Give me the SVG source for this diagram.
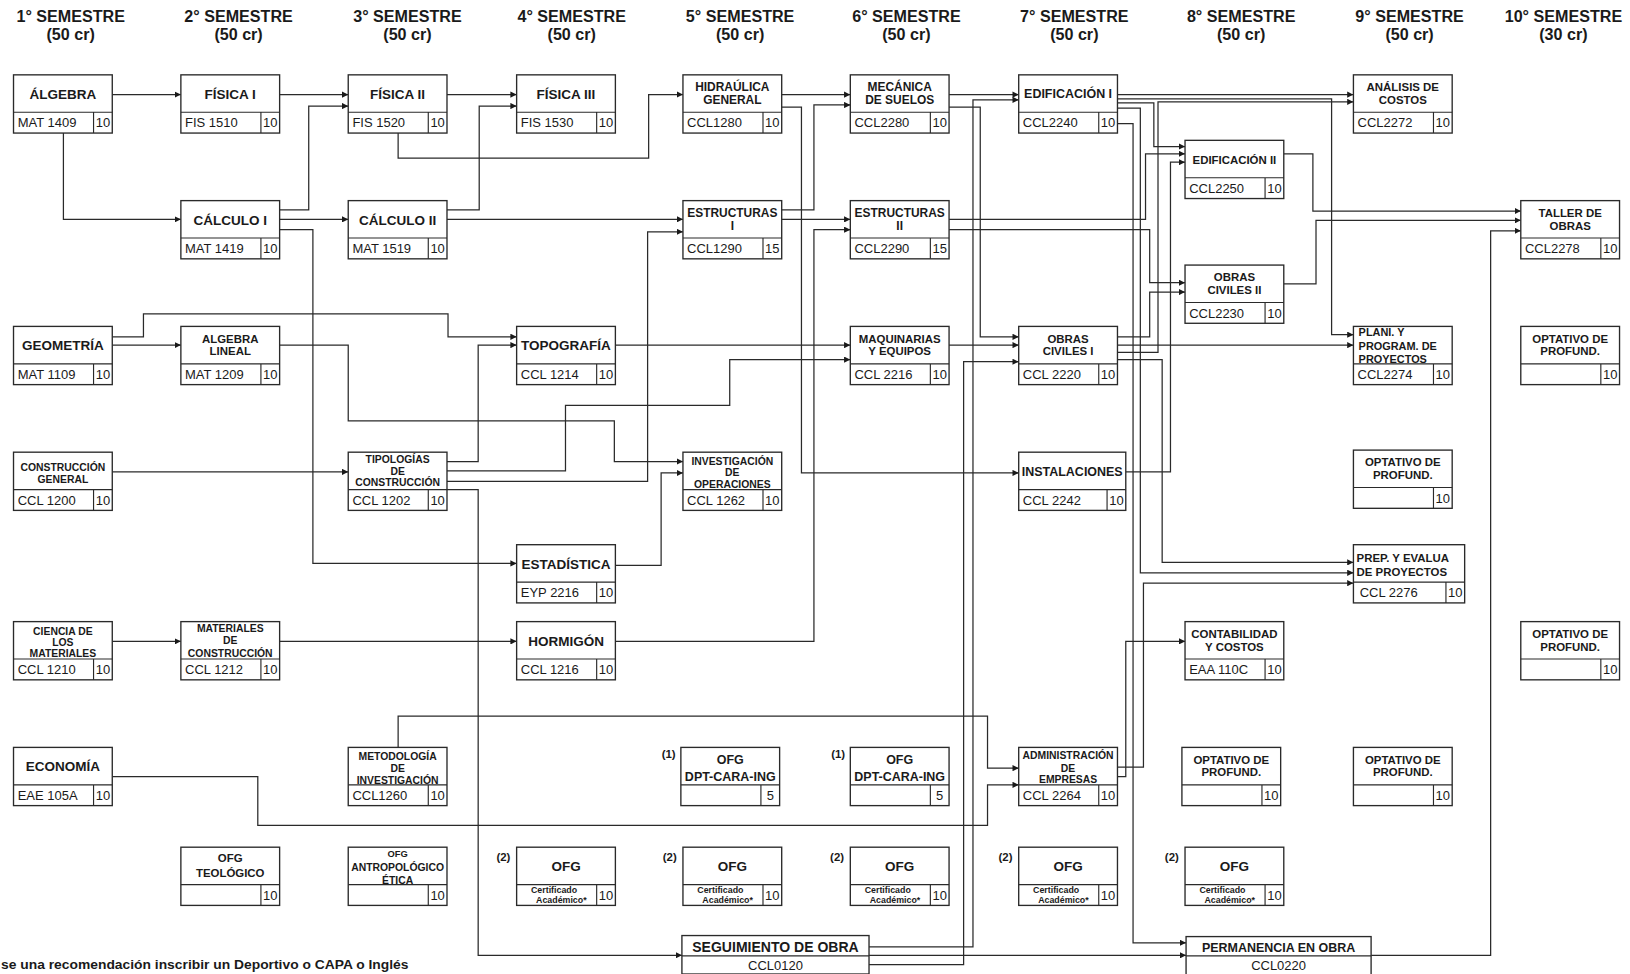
<svg xmlns="http://www.w3.org/2000/svg" width="1630" height="974" viewBox="0 0 1630 974">
<defs>
<style>
.b{fill:#fff;stroke:#2a2a2a;stroke-width:1.3}
.d{fill:none;stroke:#2a2a2a;stroke-width:1.1}
.w{fill:none;stroke:#2a2a2a;stroke-width:1.2;marker-end:url(#a)}
text{font-family:"Liberation Sans",Arial,Helvetica,sans-serif;fill:#1a1a1a}
.h{font-size:15.5px;font-weight:bold;text-anchor:middle}
.t{font-weight:bold;text-anchor:middle}
.tl{font-weight:bold}
.c{font-size:12.5px}
.n{font-size:12.5px;text-anchor:middle}
.lab{font-size:11px;font-weight:bold;text-anchor:end}
.cert{font-size:8.5px;font-weight:bold;text-anchor:middle}
.s13{font-size:13px}.s12{font-size:12px}.s115{font-size:11.5px}.s11{font-size:11px}.s105{font-size:10.5px}.s10{font-size:10px}.s9{font-size:9px}
</style>
<marker id="a" viewBox="0 0 8 8" refX="8" refY="4" markerWidth="6" markerHeight="6" markerUnits="userSpaceOnUse" orient="auto"><path d="M0,0L8,4L0,8z" fill="#1a1a1a"/></marker>
</defs>
<rect width="1630" height="974" fill="#fff"/>
<g transform="scale(1.0395)">
<g id="headers">
<text class="h" x="68" y="21">1° SEMESTRE</text><text class="h" x="68" y="38.5">(50 cr)</text>
<text class="h" x="229.5" y="21">2° SEMESTRE</text><text class="h" x="229.5" y="38.5">(50 cr)</text>
<text class="h" x="392" y="21">3° SEMESTRE</text><text class="h" x="392" y="38.5">(50 cr)</text>
<text class="h" x="550" y="21">4° SEMESTRE</text><text class="h" x="550" y="38.5">(50 cr)</text>
<text class="h" x="712" y="21">5° SEMESTRE</text><text class="h" x="712" y="38.5">(50 cr)</text>
<text class="h" x="872" y="21">6° SEMESTRE</text><text class="h" x="872" y="38.5">(50 cr)</text>
<text class="h" x="1033.5" y="21">7° SEMESTRE</text><text class="h" x="1033.5" y="38.5">(50 cr)</text>
<text class="h" x="1194" y="21">8° SEMESTRE</text><text class="h" x="1194" y="38.5">(50 cr)</text>
<text class="h" x="1356" y="21">9° SEMESTRE</text><text class="h" x="1356" y="38.5">(50 cr)</text>
<text class="h" x="1504" y="21">10° SEMESTRE</text><text class="h" x="1504" y="38.5">(30 cr)</text>
</g>
<g id="connectors">
<path class="w" d="M108,91H174"/>
<path class="w" d="M61,128V211H174"/>
<path class="w" d="M269,91H335"/>
<path class="w" d="M269,202H297V102H335"/>
<path class="w" d="M269,211H335"/>
<path class="w" d="M269,221H301V542H497"/>
<path class="w" d="M430,91H497"/>
<path class="w" d="M430,202H461V102H497"/>
<path class="w" d="M430,211H657"/>
<path class="w" d="M383,128V152H624V91H657"/>
<path class="w" d="M752,91H818"/>
<path class="w" d="M752,202H783V101H818"/>
<path class="w" d="M752,103H771V455H980"/>
<path class="w" d="M752,211H818"/>
<path class="w" d="M590,617H783V221H818"/>
<path class="w" d="M912,91H980"/>
<path class="w" d="M912,103H943V324H980"/>
<path class="w" d="M836,911H936V96H980"/>
<path class="w" d="M836,928H927V348H980"/>
<path class="w" d="M912,332H980"/>
<path class="w" d="M590,332H818"/>
<path class="w" d="M430,453H544V390H702V346H818"/>
<path class="w" d="M430,444H460V332H497"/>
<path class="w" d="M430,463H623V223H657"/>
<path class="w" d="M430,471H460V919H656"/>
<path class="w" d="M108,332H174"/>
<path class="w" d="M108,324H138V302H431V324H497"/>
<path class="w" d="M269,332H335V405H591V444H657"/>
<path class="w" d="M590,544H636V455H657"/>
<path class="w" d="M108,454H335"/>
<path class="w" d="M108,617H174"/>
<path class="w" d="M269,617H497"/>
<path class="w" d="M383,719V689H950V739H980"/>
<path class="w" d="M108,747H248V794H950V755H980"/>
<path class="w" d="M836,919H1141"/>
<path class="w" d="M1075,91H1302"/>
<path class="w" d="M1075,95H1281V322H1302"/>
<path class="w" d="M1075,99H1110V141H1140"/>
<path class="w" d="M1075,104H1097V551H1302"/>
<path class="w" d="M1075,119H1090V907H1141"/>
<path class="w" d="M913,211H1102V148H1140"/>
<path class="w" d="M913,221H1106V272H1140"/>
<path class="w" d="M1083,454H1126V156H1140"/>
<path class="w" d="M1075,324H1106V281H1140"/>
<path class="w" d="M1075,332H1302"/>
<path class="w" d="M1075,339H1114V98H1302"/>
<path class="w" d="M1075,346H1118V541H1302"/>
<path class="w" d="M1075,747H1083V617H1140"/>
<path class="w" d="M1075,738H1100V561H1302"/>
<path class="w" d="M1235,148H1263V203H1463"/>
<path class="w" d="M1235,273H1266V212H1463"/>
<path class="w" d="M1319,919H1434V222H1463"/>
</g>
<g id="algebra" transform="translate(13,72)"><rect class="b" width="95" height="56"/><path class="d" d="M0,36H95M77,36V56"/><text class="t s13" x="47.5" y="23">ÁLGEBRA</text><text class="c" x="4" y="50.5">MAT 1409</text><text class="n" x="86" y="50.5">10</text></g>
<g id="fisica1" transform="translate(174,72)"><rect class="b" width="95" height="56"/><path class="d" d="M0,36H95M77,36V56"/><text class="t s13" x="47.5" y="23">FÍSICA I</text><text class="c" x="4" y="50.5">FIS 1510</text><text class="n" x="86" y="50.5">10</text></g>
<g id="fisica2" transform="translate(335,72)"><rect class="b" width="95" height="56"/><path class="d" d="M0,36H95M77,36V56"/><text class="t s13" x="47.5" y="23">FÍSICA II</text><text class="c" x="4" y="50.5">FIS 1520</text><text class="n" x="86" y="50.5">10</text></g>
<g id="fisica3" transform="translate(497,72)"><rect class="b" width="95" height="56"/><path class="d" d="M0,36H95M77,36V56"/><text class="t s13" x="47.5" y="23">FÍSICA III</text><text class="c" x="4" y="50.5">FIS 1530</text><text class="n" x="86" y="50.5">10</text></g>
<g id="hidraulica" transform="translate(657,72)"><rect class="b" width="95" height="56"/><path class="d" d="M0,36H95M77,36V56"/><text class="t s115" x="47.5" y="15.5">HIDRAÚLICA</text><text class="t s115" x="47.5" y="28">GENERAL</text><text class="c" x="4" y="50.5">CCL1280</text><text class="n" x="86" y="50.5">10</text></g>
<g id="mecanica" transform="translate(818,72)"><rect class="b" width="95" height="56"/><path class="d" d="M0,36H95M77,36V56"/><text class="t s115" x="47.5" y="15.5">MECÁNICA</text><text class="t s115" x="47.5" y="28">DE SUELOS</text><text class="c" x="4" y="50.5">CCL2280</text><text class="n" x="86" y="50.5">10</text></g>
<g id="edificacion1" transform="translate(980,72)"><rect class="b" width="95" height="56"/><path class="d" d="M0,36H95M77,36V56"/><text class="t s12" x="47.5" y="22.5">EDIFICACIÓN I</text><text class="c" x="4" y="50.5">CCL2240</text><text class="n" x="86" y="50.5">10</text></g>
<g id="analisis" transform="translate(1302,72)"><rect class="b" width="95" height="56"/><path class="d" d="M0,36H95M77,36V56"/><text class="t s11" x="47.5" y="15.5">ANÁLISIS DE</text><text class="t s11" x="47.5" y="28">COSTOS</text><text class="c" x="4" y="50.5">CCL2272</text><text class="n" x="86" y="50.5">10</text></g>
<g id="edificacion2" transform="translate(1140,135)"><rect class="b" width="95" height="56"/><path class="d" d="M0,36H95M77,36V56"/><text class="t s11" x="47.5" y="22.5">EDIFICACIÓN II</text><text class="c" x="4" y="50.5">CCL2250</text><text class="n" x="86" y="50.5">10</text></g>
<g id="calculo1" transform="translate(174,193)"><rect class="b" width="95" height="56"/><path class="d" d="M0,36H95M77,36V56"/><text class="t s13" x="47.5" y="23">CÁLCULO I</text><text class="c" x="4" y="50.5">MAT 1419</text><text class="n" x="86" y="50.5">10</text></g>
<g id="calculo2" transform="translate(335,193)"><rect class="b" width="95" height="56"/><path class="d" d="M0,36H95M77,36V56"/><text class="t s13" x="47.5" y="23">CÁLCULO II</text><text class="c" x="4" y="50.5">MAT 1519</text><text class="n" x="86" y="50.5">10</text></g>
<g id="estructuras1" transform="translate(657,193)"><rect class="b" width="95" height="56"/><path class="d" d="M0,36H95M77,36V56"/><text class="t s115" x="47.5" y="15.5">ESTRUCTURAS</text><text class="t s115" x="47.5" y="28">I</text><text class="c" x="4" y="50.5">CCL1290</text><text class="n" x="86" y="50.5">15</text></g>
<g id="estructuras2" transform="translate(818,193)"><rect class="b" width="95" height="56"/><path class="d" d="M0,36H95M77,36V56"/><text class="t s115" x="47.5" y="15.5">ESTRUCTURAS</text><text class="t s115" x="47.5" y="28">II</text><text class="c" x="4" y="50.5">CCL2290</text><text class="n" x="86" y="50.5">15</text></g>
<g id="taller" transform="translate(1463,193)"><rect class="b" width="95" height="56"/><path class="d" d="M0,36H95M77,36V56"/><text class="t s11" x="47.5" y="15.5">TALLER DE</text><text class="t s11" x="47.5" y="28">OBRAS</text><text class="c" x="4" y="50.5">CCL2278</text><text class="n" x="86" y="50.5">10</text></g>
<g id="obrasciviles2" transform="translate(1140,255)"><rect class="b" width="95" height="56"/><path class="d" d="M0,36H95M77,36V56"/><text class="t s11" x="47.5" y="15.5">OBRAS</text><text class="t s11" x="47.5" y="28">CIVILES II</text><text class="c" x="4" y="50.5">CCL2230</text><text class="n" x="86" y="50.5">10</text></g>
<g id="geometria" transform="translate(13,314)"><rect class="b" width="95" height="56"/><path class="d" d="M0,36H95M77,36V56"/><text class="t s13" x="47.5" y="23">GEOMETRÍA</text><text class="c" x="4" y="50.5">MAT 1109</text><text class="n" x="86" y="50.5">10</text></g>
<g id="algebralineal" transform="translate(174,314)"><rect class="b" width="95" height="56"/><path class="d" d="M0,36H95M77,36V56"/><text class="t s11" x="47.5" y="15.5">ALGEBRA</text><text class="t s11" x="47.5" y="28">LINEAL</text><text class="c" x="4" y="50.5">MAT 1209</text><text class="n" x="86" y="50.5">10</text></g>
<g id="topografia" transform="translate(497,314)"><rect class="b" width="95" height="56"/><path class="d" d="M0,36H95M77,36V56"/><text class="t s13" x="47.5" y="23">TOPOGRAFÍA</text><text class="c" x="4" y="50.5">CCL 1214</text><text class="n" x="86" y="50.5">10</text></g>
<g id="maquinarias" transform="translate(818,314)"><rect class="b" width="95" height="56"/><path class="d" d="M0,36H95M77,36V56"/><text class="t s11" x="47.5" y="15.5">MAQUINARIAS</text><text class="t s11" x="47.5" y="28">Y EQUIPOS</text><text class="c" x="4" y="50.5">CCL 2216</text><text class="n" x="86" y="50.5">10</text></g>
<g id="obrasciviles1" transform="translate(980,314)"><rect class="b" width="95" height="56"/><path class="d" d="M0,36H95M77,36V56"/><text class="t s11" x="47.5" y="15.5">OBRAS</text><text class="t s11" x="47.5" y="28">CIVILES I</text><text class="c" x="4" y="50.5">CCL 2220</text><text class="n" x="86" y="50.5">10</text></g>
<g id="plani" transform="translate(1302,314)"><rect class="b" width="95" height="56"/><path class="d" d="M0,36H95M77,36V56"/><text class="tl s105" x="5" y="9.5">PLANI. Y</text><text class="tl s105" x="5" y="22.5">PROGRAM. DE</text><text class="tl s105" x="5" y="35.5">PROYECTOS</text><text class="c" x="4" y="50.5">CCL2274</text><text class="n" x="86" y="50.5">10</text></g>
<g id="optativo1" transform="translate(1463,314)"><rect class="b" width="95" height="56"/><path class="d" d="M0,36H95M77,36V56"/><text class="t s11" x="47.5" y="15.5">OPTATIVO DE</text><text class="t s11" x="47.5" y="28">PROFUND.</text><text class="n" x="86" y="50.5">10</text></g>
<g id="construccion" transform="translate(13,435)"><rect class="b" width="95" height="56"/><path class="d" d="M0,36H95M77,36V56"/><text class="t s10" x="47.5" y="18.5">CONSTRUCCIÓN</text><text class="t s10" x="47.5" y="30">GENERAL</text><text class="c" x="4" y="50.5">CCL 1200</text><text class="n" x="86" y="50.5">10</text></g>
<g id="tipologias" transform="translate(335,435)"><rect class="b" width="95" height="56"/><path class="d" d="M0,36H95M77,36V56"/><text class="t s10" x="47.5" y="10">TIPOLOGÍAS</text><text class="t s10" x="47.5" y="21.5">DE</text><text class="t s10" x="47.5" y="33">CONSTRUCCIÓN</text><text class="c" x="4" y="50.5">CCL 1202</text><text class="n" x="86" y="50.5">10</text></g>
<g id="investigacion" transform="translate(657,435)"><rect class="b" width="95" height="56"/><path class="d" d="M0,36H95M77,36V56"/><text class="t s10" x="47.5" y="12">INVESTIGACIÓN</text><text class="t s10" x="47.5" y="23">DE</text><text class="t s10" x="47.5" y="34">OPERACIONES</text><text class="c" x="4" y="50.5">CCL 1262</text><text class="n" x="86" y="50.5">10</text></g>
<g id="instalaciones" transform="translate(980,435)"><rect class="b" width="103" height="56"/><path class="d" d="M0,36H103M85,36V56"/><text class="t s12" x="51.5" y="23">INSTALACIONES</text><text class="c" x="4" y="50.5">CCL 2242</text><text class="n" x="94" y="50.5">10</text></g>
<g id="optativo2" transform="translate(1302,433)"><rect class="b" width="95" height="56"/><path class="d" d="M0,36H95M77,36V56"/><text class="t s11" x="47.5" y="15.5">OPTATIVO DE</text><text class="t s11" x="47.5" y="28">PROFUND.</text><text class="n" x="86" y="50.5">10</text></g>
<g id="estadistica" transform="translate(497,524)"><rect class="b" width="95" height="56"/><path class="d" d="M0,36H95M77,36V56"/><text class="t s13" x="47.5" y="23">ESTADÍSTICA</text><text class="c" x="4" y="50.5">EYP 2216</text><text class="n" x="86" y="50.5">10</text></g>
<g id="prep" transform="translate(1302,524)"><rect class="b" width="107" height="56"/><path class="d" d="M0,36H107M89,36V56"/><text class="tl s11" x="3" y="17">PREP.  Y EVALUA</text><text class="tl s11" x="3" y="30">DE PROYECTOS</text><text class="c" x="6" y="50.5">CCL 2276</text><text class="n" x="98" y="50.5">10</text></g>
<g id="ciencia" transform="translate(13,598)"><rect class="b" width="95" height="56"/><path class="d" d="M0,36H95M77,36V56"/><text class="t s10" x="47.5" y="12.5">CIENCIA DE</text><text class="t s10" x="47.5" y="23.5">LOS</text><text class="t s10" x="47.5" y="34.5">MATERIALES</text><text class="c" x="4" y="50.5">CCL 1210</text><text class="n" x="86" y="50.5">10</text></g>
<g id="materiales" transform="translate(174,598)"><rect class="b" width="95" height="56"/><path class="d" d="M0,36H95M77,36V56"/><text class="t s10" x="47.5" y="10">MATERIALES</text><text class="t s10" x="47.5" y="22">DE</text><text class="t s10" x="47.5" y="34">CONSTRUCCIÓN</text><text class="c" x="4" y="50.5">CCL 1212</text><text class="n" x="86" y="50.5">10</text></g>
<g id="hormigon" transform="translate(497,598)"><rect class="b" width="95" height="56"/><path class="d" d="M0,36H95M77,36V56"/><text class="t s13" x="47.5" y="23">HORMIGÓN</text><text class="c" x="4" y="50.5">CCL 1216</text><text class="n" x="86" y="50.5">10</text></g>
<g id="contabilidad" transform="translate(1140,598)"><rect class="b" width="95" height="56"/><path class="d" d="M0,36H95M77,36V56"/><text class="t s11" x="47.5" y="15.5">CONTABILIDAD</text><text class="t s11" x="47.5" y="28">Y COSTOS</text><text class="c" x="4" y="50.5">EAA 110C</text><text class="n" x="86" y="50.5">10</text></g>
<g id="optativo3" transform="translate(1463,598)"><rect class="b" width="95" height="56"/><path class="d" d="M0,36H95M77,36V56"/><text class="t s11" x="47.5" y="15.5">OPTATIVO DE</text><text class="t s11" x="47.5" y="28">PROFUND.</text><text class="n" x="86" y="50.5">10</text></g>
<g id="economia" transform="translate(13,719)"><rect class="b" width="95" height="56"/><path class="d" d="M0,36H95M77,36V56"/><text class="t s13" x="47.5" y="23">ECONOMÍA</text><text class="c" x="4" y="50.5">EAE 105A</text><text class="n" x="86" y="50.5">10</text></g>
<g id="metodologia" transform="translate(335,719)"><rect class="b" width="95" height="56"/><path class="d" d="M0,36H95M77,36V56"/><text class="t s10" x="47.5" y="12.5">METODOLOGÍA</text><text class="t s10" x="47.5" y="23.5">DE</text><text class="t s10" x="47.5" y="35">INVESTIGACIÓN</text><text class="c" x="4" y="50.5">CCL1260</text><text class="n" x="86" y="50.5">10</text></g>
<g id="ofgdpt1" transform="translate(655,719)"><text class="lab" x="-5" y="10" font-weight="normal">(1)</text><rect class="b" width="95" height="56"/><path class="d" d="M0,36H95M77,36V56"/><text class="t s12" x="47.5" y="15.5">OFG</text><text class="t s12" x="47.5" y="32">DPT-CARA-ING</text><text class="n" x="86" y="50.5">5</text></g>
<g id="ofgdpt2" transform="translate(818,719)"><text class="lab" x="-5" y="10" font-weight="normal">(1)</text><rect class="b" width="95" height="56"/><path class="d" d="M0,36H95M77,36V56"/><text class="t s12" x="47.5" y="15.5">OFG</text><text class="t s12" x="47.5" y="32">DPT-CARA-ING</text><text class="n" x="86" y="50.5">5</text></g>
<g id="administracion" transform="translate(980,719)"><rect class="b" width="95" height="56"/><path class="d" d="M0,36H95M77,36V56"/><text class="t s10" x="47.5" y="11.5">ADMINISTRACIÓN</text><text class="t s10" x="47.5" y="23.5">DE</text><text class="t s10" x="47.5" y="34">EMPRESAS</text><text class="c" x="4" y="50.5">CCL 2264</text><text class="n" x="86" y="50.5">10</text></g>
<g id="optativo4" transform="translate(1137,719)"><rect class="b" width="95" height="56"/><path class="d" d="M0,36H95M77,36V56"/><text class="t s11" x="47.5" y="15.5">OPTATIVO DE</text><text class="t s11" x="47.5" y="28">PROFUND.</text><text class="n" x="86" y="50.5">10</text></g>
<g id="optativo5" transform="translate(1302,719)"><rect class="b" width="95" height="56"/><path class="d" d="M0,36H95M77,36V56"/><text class="t s11" x="47.5" y="15.5">OPTATIVO DE</text><text class="t s11" x="47.5" y="28">PROFUND.</text><text class="n" x="86" y="50.5">10</text></g>
<g id="ofgteologico" transform="translate(174,815)"><rect class="b" width="95" height="56"/><path class="d" d="M0,36H95M77,36V56"/><text class="t s11" x="47.5" y="14">OFG</text><text class="t s11" x="47.5" y="28.5">TEOLÓGICO</text><text class="n" x="86" y="50.5">10</text></g>
<g id="ofgantropologico" transform="translate(335,815)"><rect class="b" width="95" height="56"/><path class="d" d="M0,36H95M77,36V56"/><text class="t s9" x="47.5" y="9.5">OFG</text><text class="t s10" x="47.5" y="23">ANTROPOLÓGICO</text><text class="t s10" x="47.5" y="35">ÉTICA</text><text class="n" x="86" y="50.5">10</text></g>
<g id="ofg1" transform="translate(497,815)"><text class="lab" x="-6" y="13">(2)</text><rect class="b" width="95" height="56"/><path class="d" d="M0,36H95M77,36V56"/><text class="t s13" x="47.5" y="23">OFG</text><text class="cert" x="36" y="44">Certificado</text><text class="cert" x="43" y="54">Académico*</text><text class="n" x="86" y="50.5">10</text></g>
<g id="ofg2" transform="translate(657,815)"><text class="lab" x="-6" y="13">(2)</text><rect class="b" width="95" height="56"/><path class="d" d="M0,36H95M77,36V56"/><text class="t s13" x="47.5" y="23">OFG</text><text class="cert" x="36" y="44">Certificado</text><text class="cert" x="43" y="54">Académico*</text><text class="n" x="86" y="50.5">10</text></g>
<g id="ofg3" transform="translate(818,815)"><text class="lab" x="-6" y="13">(2)</text><rect class="b" width="95" height="56"/><path class="d" d="M0,36H95M77,36V56"/><text class="t s13" x="47.5" y="23">OFG</text><text class="cert" x="36" y="44">Certificado</text><text class="cert" x="43" y="54">Académico*</text><text class="n" x="86" y="50.5">10</text></g>
<g id="ofg4" transform="translate(980,815)"><text class="lab" x="-6" y="13">(2)</text><rect class="b" width="95" height="56"/><path class="d" d="M0,36H95M77,36V56"/><text class="t s13" x="47.5" y="23">OFG</text><text class="cert" x="36" y="44">Certificado</text><text class="cert" x="43" y="54">Académico*</text><text class="n" x="86" y="50.5">10</text></g>
<g id="ofg5" transform="translate(1140,815)"><text class="lab" x="-6" y="13">(2)</text><rect class="b" width="95" height="56"/><path class="d" d="M0,36H95M77,36V56"/><text class="t s13" x="47.5" y="23">OFG</text><text class="cert" x="36" y="44">Certificado</text><text class="cert" x="43" y="54">Académico*</text><text class="n" x="86" y="50.5">10</text></g>
<g id="seguimiento" transform="translate(656,900)"><rect class="b" width="180" height="37"/><path class="d" d="M0,19.5H180"/><text class="t" font-size="13.5" x="90" y="15.5">SEGUIMIENTO DE OBRA</text><text class="n" font-size="12" x="90" y="33">CCL0120</text></g>
<g id="permanencia" transform="translate(1141,901)"><rect class="b" width="178" height="37"/><path class="d" d="M0,18.5H178"/><text class="t s12" x="89" y="14.5">PERMANENCIA EN OBRA</text><text class="n" font-size="12" x="89" y="32">CCL0220</text></g>
<text class="tl" font-size="12" x="1" y="932.5" textLength="392" lengthAdjust="spacingAndGlyphs">se una recomendación inscribir un Deportivo o CAPA o Inglés</text>
</g>
</svg>
